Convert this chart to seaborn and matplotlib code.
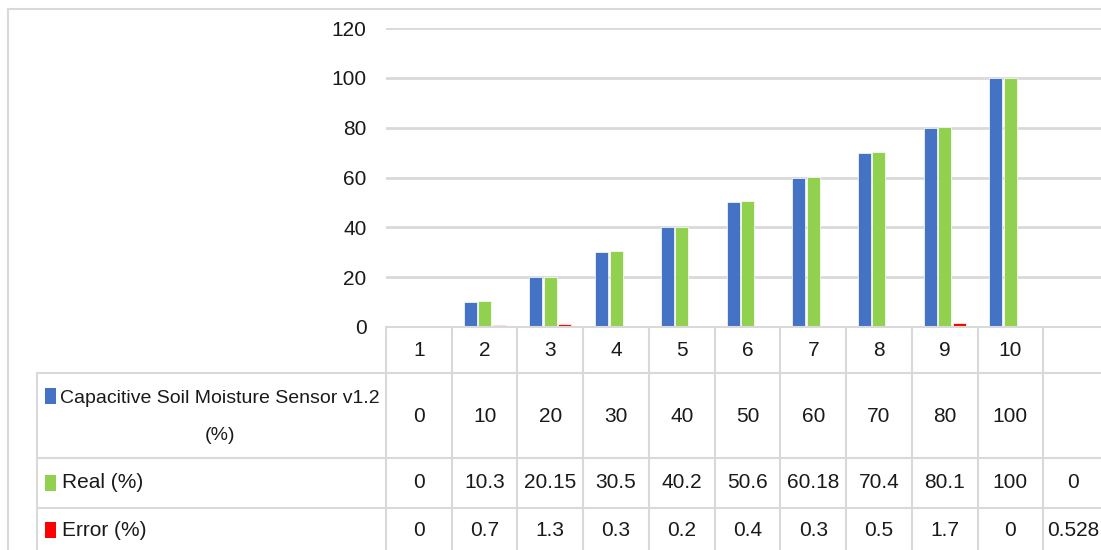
import numpy as np
import pandas as pd
import seaborn as sns
import matplotlib
matplotlib.use("Agg")
import matplotlib.pyplot as plt
from matplotlib.lines import Line2D
from matplotlib.patches import Rectangle
from matplotlib.transforms import blended_transform_factory

# ---- data ---------------------------------------------------------------
categories = ["1", "2", "3", "4", "5", "6", "7", "8", "9", "10", ""]
sensor = [0, 10, 20, 30, 40, 50, 60, 70, 80, 100, np.nan]
real = [0, 10.3, 20.15, 30.5, 40.2, 50.6, 60.18, 70.4, 80.1, 100, 0]
error = [0, 0.7, 1.3, 0.3, 0.2, 0.4, 0.3, 0.5, 1.7, 0, 0.528]

series_names = ["Capacitive Soil Moisture Sensor v1.2\n(%)", "Real (%)", "Error (%)"]
series_values = [sensor, real, error]
series_colors = ["#4472C4", "#92D050", "#FF0000"]

y_ticks = [0, 20, 40, 60, 80, 100, 120]

# ---- styling ------------------------------------------------------------
sns.set_theme(style="white")
plt.rcParams["font.family"] = ["Liberation Sans Narrow", "Liberation Sans", "DejaVu Sans"]
FS = 15          # numbers and short labels
FS_LONG = 14     # long series name
GRID = "#d9d9d9"
TXT = "#1a1a1a"

W, H = 1101, 550
fig = plt.figure(figsize=(W / 100, H / 100), dpi=100)


def fx(x):
    return x / W


def fy(y):
    return 1 - y / H


# plot area: x 386 -> 1109 px (11 columns), y 28 -> 327 px
ax = fig.add_axes([fx(386), fy(327), fx(1109 - 386), (327 - 28) / H])

rows = []
for name, vals in zip(series_names, series_values):
    for cat, v in zip(categories, vals):
        rows.append({"cat": cat, "series": name, "value": v})
df = pd.DataFrame(rows)

sns.barplot(
    data=df, x="cat", y="value", hue="series", order=categories,
    hue_order=series_names, palette=series_colors, saturation=1,
    width=0.66, gap=0.1, edgecolor="white", linewidth=0.5,
    errorbar=None, legend=False, ax=ax,
)

ax.set_xlim(-0.5, len(categories) - 0.5)
ax.set_ylim(0, 120)
ax.set_yticks(y_ticks)
ax.set_yticklabels([str(t) for t in y_ticks], fontsize=FS, color=TXT)
ax.set_xticks([])
ax.set_xlabel("")
ax.set_ylabel("")
ax.tick_params(axis="y", length=0, pad=14)
ax.yaxis.grid(True, color=GRID, linewidth=2)
ax.set_axisbelow(True)
for s in ax.spines.values():
    s.set_visible(False)

# ---- outer chart border ---------------------------------------------------
fig.add_artist(Line2D([fx(8), fx(8)], [fy(9), fy(560)], color=GRID, lw=1.5,
                      transform=fig.transFigure))
fig.add_artist(Line2D([fx(8), fx(1110)], [fy(9), fy(9)], color=GRID, lw=1.5,
                      transform=fig.transFigure))

# ---- data table -----------------------------------------------------------
tr = blended_transform_factory(ax.transData, fig.transFigure)
row_lines = [327, 373, 458, 508]
for i, y in enumerate(row_lines):
    x0 = 386 if i == 0 else 37
    fig.add_artist(Line2D([fx(x0), fx(1110)], [fy(y), fy(y)], color=GRID,
                          lw=1.5, transform=fig.transFigure))
# left edge of the series-name column
fig.add_artist(Line2D([fx(37), fx(37)], [fy(373), fy(560)], color=GRID, lw=1.5,
                      transform=fig.transFigure))
# column separators
for b in np.arange(-0.5, len(categories), 1.0):
    fig.add_artist(Line2D([b, b], [fy(327), fy(560)], color=GRID, lw=1.5,
                          transform=tr))

# header row with category numbers
for i, c in enumerate(categories):
    fig.text(i, fy(350), c, transform=tr, ha="center", va="center",
             fontsize=FS, color=TXT)


def fmt(v):
    if v is None or (isinstance(v, float) and np.isnan(v)):
        return ""
    return f"{v:g}"


row_centers = [416, 483, 530]
for vals, yc in zip(series_values, row_centers):
    for i, v in enumerate(vals):
        xi = i - 0.05 if i == len(categories) - 1 else i
        fig.text(xi, fy(yc), fmt(v), transform=tr, ha="center", va="center",
                 fontsize=FS, color=TXT)

# series names with colour keys
fig.text(fx(220), fy(417), series_names[0], ha="center", va="center",
         multialignment="center", fontsize=FS_LONG, color=TXT, linespacing=2.5)
fig.text(fx(62), fy(483), series_names[1], ha="left", va="center",
         fontsize=FS, color=TXT)
fig.text(fx(62), fy(530), series_names[2], ha="left", va="center",
         fontsize=FS, color=TXT)
key_centers = [396, 483, 530]
for col, yc in zip(series_colors, key_centers):
    fig.add_artist(Rectangle((fx(45), fy(yc + 8)), fx(11), 16 / H,
                             facecolor=col, edgecolor="none",
                             transform=fig.transFigure))

fig.savefig("out.png", dpi=100, facecolor="white")
